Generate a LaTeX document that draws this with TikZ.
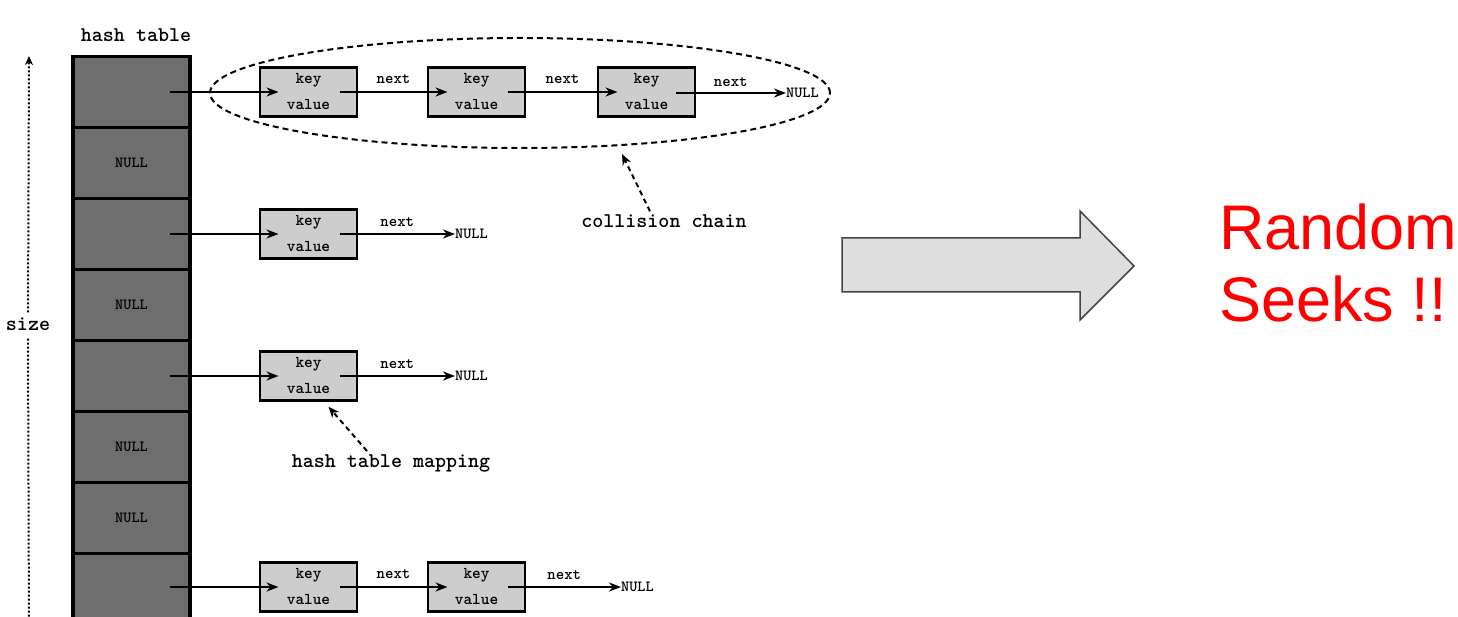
\documentclass[tikz,border=0pt]{standalone}
\usepackage{fontspec}
\newfontfamily\arialf{Liberation Sans}
\usetikzlibrary{arrows.meta,shapes.geometric}
\definecolor{cellgray}{HTML}{6E6E6E}
\definecolor{boxgray}{HTML}{CDCDCD}
\definecolor{bigfill}{HTML}{DEDEDE}
\definecolor{bigline}{HTML}{444444}
\tikzset{
  cell/.style={draw=black, line width=3.5pt, fill=cellgray, minimum width=117pt, minimum height=71pt, inner sep=0pt, font=\ttfamily\bfseries\fontsize{15.5}{15.5}\selectfont},
  kv/.style={draw=black, line width=2.5pt, fill=boxgray, minimum width=97pt, minimum height=49pt, inner sep=0pt, align=center, font=\ttfamily\bfseries\fontsize{16.5}{26}\selectfont},
  ptr/.style={line width=2pt, -{Stealth[length=12pt,width=9pt]}},
  dptr/.style={line width=2pt, dash pattern=on 5pt off 4pt, -{Stealth[length=11pt,width=9pt]}},
  lbl/.style={font=\ttfamily\bfseries\fontsize{16}{16}\selectfont, inner sep=0pt},
  nul/.style={font=\ttfamily\bfseries\fontsize{15.5}{15.5}\selectfont, inner sep=0pt, anchor=west},
  big/.style={font=\ttfamily\bfseries\fontsize{21}{21}\selectfont, inner sep=0pt}
}
\begin{document}
\begin{tikzpicture}[x=1pt,y=-1pt]
\useasboundingbox (0,0) rectangle (1458,617);
\begin{scope}
\clip (0,0) rectangle (1458,617);
% size indicator
\node[big] (size) at (28,324) {size};
\coordinate (stop) at (29,56);
\coordinate (sbot) at (29,640);
\draw[line width=2pt, dotted, shorten <=5pt, -{Stealth[length=9pt,width=8pt]}] (size.north) -- (stop);
\draw[line width=2pt, dotted, shorten <=8pt] (size.south) -- (sbot);
% hash table
\node[big] (ht) at (136,35) {hash table};
\node[cell] (c1) at (131.5,92) {};
\node[cell] (c2) at (131.5,163) {NULL};
\node[cell] (c3) at (131.5,234) {};
\node[cell] (c4) at (131.5,305) {NULL};
\node[cell] (c5) at (131.5,376) {};
\node[cell] (c6) at (131.5,447) {NULL};
\node[cell] (c7) at (131.5,518) {NULL};
\node[cell] (c8) at (131.5,589) {};
% row 1 chain
\node[kv] (a1) at (308.5,92) {key\\value};
\node[kv] (a2) at (476.5,92) {key\\value};
\node[kv] (a3) at (646.5,92) {key\\value};
\node[nul] (an) at (786,93) {NULL};
\draw[ptr] ([xshift=38pt]c1.center) -- ([xshift=-30pt]a1.center);
\draw[ptr] ([xshift=31pt]a1.center) -- node[lbl, above=7pt] {next} ([xshift=-29pt]a2.center);
\draw[ptr] ([xshift=31pt]a2.center) -- node[lbl, above=7pt] {next} ([xshift=-29pt]a3.center);
\draw[ptr] ([xshift=29pt,yshift=-1pt]a3.center) -- node[lbl, above=5pt] {next} (an.west);
\node[draw, line width=2pt, dash pattern=on 6pt off 4pt, ellipse, inner sep=0pt, minimum width=620pt, minimum height=110pt] (chain) at (520,93) {};
\node[big] (cc) at (664,221) {collision chain};
\draw[dptr] ([xshift=-14pt,yshift=3pt]cc.north) -- ([xshift=102pt,yshift=-5pt]chain.south);
% row 3
\node[kv] (b1) at (308.5,234) {key\\value};
\node[nul] (bn) at (455,234) {NULL};
\draw[ptr] ([xshift=38pt]c3.center) -- ([xshift=-30pt]b1.center);
\draw[ptr] ([xshift=31pt]b1.center) -- node[lbl, above=6pt] {next} (bn.west);
% row 5
\node[kv] (d1) at (308.5,376) {key\\value};
\node[nul] (dn) at (455,376) {NULL};
\draw[ptr] ([xshift=38pt]c5.center) -- ([xshift=-30pt]d1.center);
\draw[ptr] ([xshift=31pt]d1.center) -- node[lbl, above=6pt] {next} (dn.west);
\node[big] (hm) at (391,463) {hash table mapping};
\draw[dptr] ([xshift=-24pt,yshift=3pt]hm.north) -- ([xshift=20pt,yshift=-5pt]d1.south);
% row 8
\node[kv] (e1) at (308.5,587) {key\\value};
\node[kv] (e2) at (476.5,587) {key\\value};
\node[nul] (en) at (621,587) {NULL};
\draw[ptr] ([xshift=38pt,yshift=2pt]c8.center) -- ([xshift=-30pt]e1.center);
\draw[ptr] ([xshift=31pt]e1.center) -- node[lbl, above=7pt] {next} ([xshift=-29pt]e2.center);
\draw[ptr] ([xshift=31pt]e2.center) -- node[lbl, above=6pt] {next} (en.west);
% big arrow
\draw[draw=bigline, fill=bigfill, line width=1.5pt] (842,238) -- (1080,238) -- (1080,211) -- (1134,266) -- (1080,320) -- (1080,292) -- (842,292) -- cycle;
\node[font=\arialf\fontsize{63}{72}\selectfont, text=red, align=left, anchor=north west, inner sep=0pt] (rs) at (1219,204) {Random\\Seeks !!};
\end{scope}
\end{tikzpicture}
\end{document}
